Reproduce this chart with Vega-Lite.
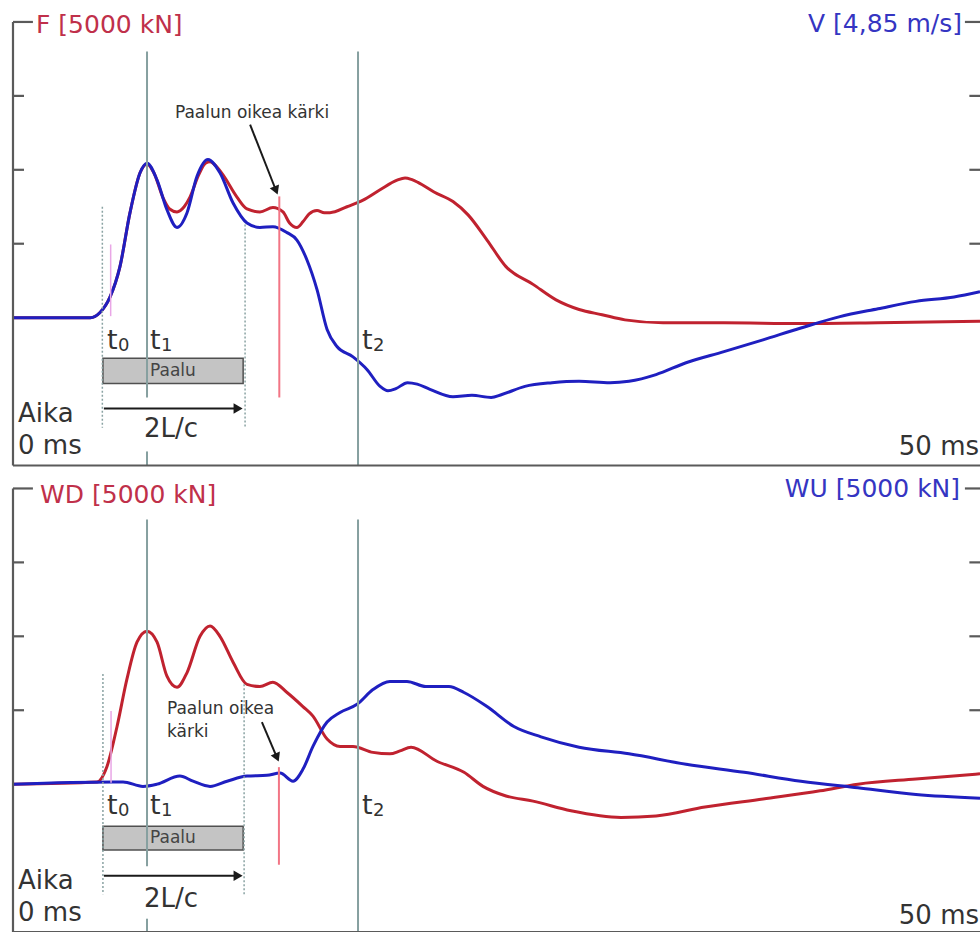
{
  "$schema": "https://vega.github.io/schema/vega-lite/v6.json",
  "width": 980,
  "height": 933,
  "autosize": {"type": "fit", "contains": "padding"},
  "padding": 0,
  "background": "white",
  "config": {"view": {"stroke": null}, "text": {"font": "DejaVu Sans"}},
  "datasets": {
    "F": [{"t":0,"v":0},{"t":4.0,"v":0},{"t":4.5,"v":0.07},{"t":5.02,"v":0.28},{"t":5.53,"v":0.69},{"t":6.05,"v":1.42},{"t":6.57,"v":1.96},{"t":6.93,"v":2.08},{"t":7.3,"v":1.95},{"t":7.76,"v":1.62},{"t":8.1,"v":1.47},{"t":8.48,"v":1.43},{"t":8.85,"v":1.5},{"t":9.15,"v":1.63},{"t":9.6,"v":1.93},{"t":9.95,"v":2.09},{"t":10.19,"v":2.11},{"t":10.5,"v":2.05},{"t":10.86,"v":1.93},{"t":11.58,"v":1.63},{"t":12.1,"v":1.47},{"t":12.77,"v":1.43},{"t":13.44,"v":1.49},{"t":13.96,"v":1.43},{"t":14.3,"v":1.28},{"t":14.68,"v":1.22},{"t":15.0,"v":1.3},{"t":15.3,"v":1.4},{"t":15.72,"v":1.45},{"t":16.1,"v":1.42},{"t":16.39,"v":1.42},{"t":17.27,"v":1.5},{"t":18.1,"v":1.59},{"t":18.98,"v":1.73},{"t":19.86,"v":1.86},{"t":20.27,"v":1.89},{"t":20.6,"v":1.87},{"t":20.94,"v":1.83},{"t":21.77,"v":1.7},{"t":22.75,"v":1.57},{"t":23.53,"v":1.39},{"t":24.51,"v":1.05},{"t":25.49,"v":0.69},{"t":26.89,"v":0.45},{"t":28.08,"v":0.24},{"t":29.27,"v":0.11},{"t":30.46,"v":0.04},{"t":31.64,"v":-0.03},{"t":33.61,"v":-0.07},{"t":36.76,"v":-0.07},{"t":40.74,"v":-0.08},{"t":44.73,"v":-0.07},{"t":50,"v":-0.05}],
    "V": [{"t":0,"v":0},{"t":4.0,"v":0},{"t":4.5,"v":0.07},{"t":5.02,"v":0.28},{"t":5.53,"v":0.69},{"t":6.05,"v":1.42},{"t":6.57,"v":1.96},{"t":6.93,"v":2.09},{"t":7.45,"v":1.86},{"t":7.96,"v":1.46},{"t":8.48,"v":1.22},{"t":9.0,"v":1.42},{"t":9.51,"v":1.91},{"t":10.08,"v":2.14},{"t":10.7,"v":1.96},{"t":11.38,"v":1.55},{"t":12.1,"v":1.28},{"t":12.77,"v":1.22},{"t":13.44,"v":1.23},{"t":14.17,"v":1.15},{"t":14.68,"v":1.05},{"t":15.2,"v":0.78},{"t":15.72,"v":0.38},{"t":16.24,"v":-0.16},{"t":16.75,"v":-0.39},{"t":17.58,"v":-0.53},{"t":18.3,"v":-0.7},{"t":18.98,"v":-0.93},{"t":19.39,"v":-0.99},{"t":19.8,"v":-0.96},{"t":20.4,"v":-0.88},{"t":20.9,"v":-0.9},{"t":21.56,"v":-0.97},{"t":22.75,"v":-1.07},{"t":23.73,"v":-1.05},{"t":24.72,"v":-1.08},{"t":25.28,"v":-1.04},{"t":26.47,"v":-0.93},{"t":27.87,"v":-0.88},{"t":29.27,"v":-0.86},{"t":30.87,"v":-0.88},{"t":31.85,"v":-0.86},{"t":33.25,"v":-0.77},{"t":34.8,"v":-0.61},{"t":36.76,"v":-0.46},{"t":38.78,"v":-0.3},{"t":40.74,"v":-0.14},{"t":42.71,"v":0.01},{"t":44.73,"v":0.12},{"t":46.69,"v":0.22},{"t":48.66,"v":0.28},{"t":50,"v":0.35}],
    "WD": [{"t":0,"v":0},{"t":4.34,"v":0.03},{"t":4.86,"v":0.24},{"t":5.38,"v":0.78},{"t":5.89,"v":1.42},{"t":6.41,"v":1.92},{"t":6.93,"v":2.07},{"t":7.45,"v":1.92},{"t":7.96,"v":1.46},{"t":8.48,"v":1.31},{"t":9.0,"v":1.51},{"t":9.67,"v":2.0},{"t":10.19,"v":2.14},{"t":10.7,"v":2.0},{"t":11.38,"v":1.65},{"t":12.1,"v":1.35},{"t":12.77,"v":1.32},{"t":13.44,"v":1.38},{"t":14.17,"v":1.24},{"t":14.99,"v":1.05},{"t":15.51,"v":0.92},{"t":16.24,"v":0.61},{"t":16.91,"v":0.51},{"t":17.58,"v":0.51},{"t":18.61,"v":0.43},{"t":19.49,"v":0.41},{"t":20.01,"v":0.45},{"t":20.58,"v":0.5},{"t":21.92,"v":0.31},{"t":23.32,"v":0.16},{"t":24.3,"v":-0.03},{"t":25.49,"v":-0.16},{"t":26.89,"v":-0.23},{"t":28.85,"v":-0.36},{"t":31.44,"v":-0.45},{"t":33.25,"v":-0.43},{"t":35.78,"v":-0.31},{"t":38.78,"v":-0.2},{"t":41.73,"v":-0.09},{"t":43.69,"v":0.0},{"t":46.69,"v":0.07},{"t":50,"v":0.14}],
    "WU": [{"t":0,"v":0},{"t":5.17,"v":0.03},{"t":5.69,"v":0.03},{"t":6.72,"v":-0.03},{"t":7.45,"v":0},{"t":8.63,"v":0.11},{"t":9.31,"v":0.04},{"t":10.19,"v":-0.03},{"t":11.07,"v":0.04},{"t":12.1,"v":0.11},{"t":13.13,"v":0.12},{"t":13.81,"v":0.15},{"t":14.48,"v":0.04},{"t":14.99,"v":0.2},{"t":15.51,"v":0.51},{"t":16.24,"v":0.84},{"t":16.91,"v":0.97},{"t":17.79,"v":1.08},{"t":18.61,"v":1.28},{"t":19.49,"v":1.39},{"t":20.37,"v":1.39},{"t":21.35,"v":1.32},{"t":22.54,"v":1.32},{"t":23.32,"v":1.24},{"t":24.51,"v":1.05},{"t":25.9,"v":0.78},{"t":27.3,"v":0.64},{"t":29.27,"v":0.5},{"t":31.85,"v":0.41},{"t":34.8,"v":0.27},{"t":37.8,"v":0.16},{"t":40.74,"v":0.04},{"t":43.69,"v":-0.05},{"t":46.69,"v":-0.14},{"t":50,"v":-0.19}],
    "frame": [{"x":0,"x2":0,"y":-2,"y2":4},{"x":0,"x2":50,"y":-2,"y2":-2},{"x":0,"x2":0.57,"y":1,"y2":1},{"x":0,"x2":0.57,"y":2,"y2":2},{"x":0,"x2":0.57,"y":3,"y2":3},{"x":0,"x2":1.03,"y":4,"y2":4},{"x":49.45,"x2":50,"y":1,"y2":1},{"x":49.45,"x2":50,"y":2,"y2":2},{"x":49.45,"x2":50,"y":3,"y2":3},{"x":49.22,"x2":50,"y":4,"y2":4}],
    "vt": [{"k":"t","x":6.93,"y":3.6,"y2":-1.08},{"k":"t","x":6.93,"y":-1.81,"y2":-2},{"k":"t","x":17.84,"y":3.6,"y2":-2},{"k":"dot","x":4.62,"y":1.5,"y2":-1.49},{"k":"dot","x":12.0,"y":1.26,"y2":-1.49},{"k":"red","x":13.77,"y":1.64,"y2":-1.08},{"k":"pink","x":5.05,"y":0.99,"y2":0.02}],
    "vb": [{"k":"t","x":6.93,"y":3.58,"y2":-1.11},{"k":"t","x":6.93,"y":-1.82,"y2":-2},{"k":"t","x":17.84,"y":3.58,"y2":-2},{"k":"dot","x":4.65,"y":1.49,"y2":-1.49},{"k":"dot","x":11.95,"y":1.35,"y2":-1.49},{"k":"red","x":13.75,"y":0.23,"y2":-1.09},{"k":"pink","x":5.07,"y":0.99,"y2":0.02}],
    "tmain": [{"x":4.86,"label":"t"},{"x":7.08,"label":"t"},{"x":18.05,"label":"t"}],
    "tsub": [{"x":5.43,"label":"0"},{"x":7.65,"label":"1"},{"x":18.62,"label":"2"}]
  },
  "resolve": {"scale": {"y": "independent"}},
  "layer": [
    {
      "layer": [
        {"mark": {"type": "rule", "stroke": "#9fb3b3", "strokeWidth": 1.5, "strokeDash": [2, 2], "clip": true},
         "encoding": {"x": {"datum": 0, "type": "quantitative", "scale": {"domain": [-0.672, 50], "nice": false, "zero": false}, "axis": null}, "x2": {"datum": 50}, "y": {"datum": 0, "type": "quantitative", "scale": {"domain": [-8.311, 4.297], "nice": false, "zero": false}, "axis": null}}},
        {"data": {"name": "F"}, "mark": {"type": "line", "stroke": "#c0222f", "strokeWidth": 3, "interpolate": "monotone", "clip": true},
         "encoding": {"x": {"field": "t", "type": "quantitative", "scale": {"domain": [-0.672, 50], "nice": false, "zero": false}, "axis": null}, "y": {"field": "v", "type": "quantitative", "scale": {"domain": [-8.311, 4.297], "nice": false, "zero": false}, "axis": null}}},
        {"data": {"name": "V"}, "mark": {"type": "line", "stroke": "#1f1fc0", "strokeWidth": 3, "interpolate": "monotone", "clip": true},
         "encoding": {"x": {"field": "t", "type": "quantitative", "scale": {"domain": [-0.672, 50], "nice": false, "zero": false}, "axis": null}, "y": {"field": "v", "type": "quantitative", "scale": {"domain": [-8.311, 4.297], "nice": false, "zero": false}, "axis": null}}},
        {"data": {"values": [{"x": 4.65, "x2": 11.9, "y": -0.55, "y2": -0.89}]}, "mark": {"type": "rect", "fill": "#c4c4c4", "stroke": "#505050", "strokeWidth": 1.5},
         "encoding": {"x": {"field": "x", "type": "quantitative", "scale": {"domain": [-0.672, 50], "nice": false, "zero": false}, "axis": null}, "x2": {"field": "x2"}, "y": {"field": "y", "type": "quantitative", "scale": {"domain": [-8.311, 4.297], "nice": false, "zero": false}, "axis": null}, "y2": {"field": "y2"}}},
        {"data": {"name": "vt"}, "transform": [{"filter": "datum.k === 't'"}], "mark": {"type": "rule", "stroke": "#86a0a0", "strokeWidth": 2},
         "encoding": {"x": {"field": "x", "type": "quantitative", "scale": {"domain": [-0.672, 50], "nice": false, "zero": false}, "axis": null}, "y": {"field": "y", "type": "quantitative", "scale": {"domain": [-8.311, 4.297], "nice": false, "zero": false}, "axis": null}, "y2": {"field": "y2"}}},
        {"data": {"name": "vt"}, "transform": [{"filter": "datum.k === 'dot'"}], "mark": {"type": "rule", "stroke": "#8aa3a3", "strokeWidth": 1.5, "strokeDash": [2, 2]},
         "encoding": {"x": {"field": "x", "type": "quantitative", "scale": {"domain": [-0.672, 50], "nice": false, "zero": false}, "axis": null}, "y": {"field": "y", "type": "quantitative", "scale": {"domain": [-8.311, 4.297], "nice": false, "zero": false}, "axis": null}, "y2": {"field": "y2"}}},
        {"data": {"name": "vt"}, "transform": [{"filter": "datum.k === 'red'"}], "mark": {"type": "rule", "stroke": "#f27585", "strokeWidth": 2},
         "encoding": {"x": {"field": "x", "type": "quantitative", "scale": {"domain": [-0.672, 50], "nice": false, "zero": false}, "axis": null}, "y": {"field": "y", "type": "quantitative", "scale": {"domain": [-8.311, 4.297], "nice": false, "zero": false}, "axis": null}, "y2": {"field": "y2"}}},
        {"data": {"name": "vt"}, "transform": [{"filter": "datum.k === 'pink'"}], "mark": {"type": "rule", "stroke": "#e9a6e6", "strokeWidth": 1.5},
         "encoding": {"x": {"field": "x", "type": "quantitative", "scale": {"domain": [-0.672, 50], "nice": false, "zero": false}, "axis": null}, "y": {"field": "y", "type": "quantitative", "scale": {"domain": [-8.311, 4.297], "nice": false, "zero": false}, "axis": null}, "y2": {"field": "y2"}}},
        {"data": {"name": "frame"}, "mark": {"type": "rule", "stroke": "#5a5a5a", "strokeWidth": 2.2, "clip": true},
         "encoding": {"x": {"field": "x", "type": "quantitative", "scale": {"domain": [-0.672, 50], "nice": false, "zero": false}, "axis": null}, "x2": {"field": "x2"}, "y": {"field": "y", "type": "quantitative", "scale": {"domain": [-8.311, 4.297], "nice": false, "zero": false}, "axis": null}, "y2": {"field": "y2"}}},
        {"data": {"values": [{"x": 4.7, "y": -1.23, "x2": 11.62, "y2": -1.23}, {"x": 12.26, "y": 2.61, "x2": 13.6, "y2": 1.72}]}, "mark": {"type": "rule", "stroke": "#1a1a1a", "strokeWidth": 2},
         "encoding": {"x": {"field": "x", "type": "quantitative", "scale": {"domain": [-0.672, 50], "nice": false, "zero": false}, "axis": null}, "x2": {"field": "x2"}, "y": {"field": "y", "type": "quantitative", "scale": {"domain": [-8.311, 4.297], "nice": false, "zero": false}, "axis": null}, "y2": {"field": "y2"}}},
        {"data": {"values": [{"x": 11.64, "y": -1.23}]}, "mark": {"type": "point", "shape": "triangle-right", "filled": true, "color": "#1a1a1a", "size": 110, "opacity": 1},
         "encoding": {"x": {"field": "x", "type": "quantitative", "scale": {"domain": [-0.672, 50], "nice": false, "zero": false}, "axis": null}, "y": {"field": "y", "type": "quantitative", "scale": {"domain": [-8.311, 4.297], "nice": false, "zero": false}, "axis": null}}},
        {"data": {"values": [{"x": 13.6, "y": 1.72}]}, "mark": {"type": "point", "shape": "triangle-down", "filled": true, "color": "#1a1a1a", "size": 100, "opacity": 1, "angle": -22},
         "encoding": {"x": {"field": "x", "type": "quantitative", "scale": {"domain": [-0.672, 50], "nice": false, "zero": false}, "axis": null}, "y": {"field": "y", "type": "quantitative", "scale": {"domain": [-8.311, 4.297], "nice": false, "zero": false}, "axis": null}}},
        {"data": {"values": [{"x": 1.19, "y": 3.85, "label": "F [5000 kN]"}]}, "mark": {"type": "text", "align": "left", "baseline": "alphabetic", "fontSize": 25, "color": "#c0304a"},
         "encoding": {"x": {"field": "x", "type": "quantitative", "scale": {"domain": [-0.672, 50], "nice": false, "zero": false}, "axis": null}, "y": {"field": "y", "type": "quantitative", "scale": {"domain": [-8.311, 4.297], "nice": false, "zero": false}, "axis": null}, "text": {"field": "label"}}},
        {"data": {"values": [{"x": 49.07, "y": 3.86, "label": "V [4,85 m/s]"}]}, "mark": {"type": "text", "align": "right", "baseline": "alphabetic", "fontSize": 25, "color": "#3535c2"},
         "encoding": {"x": {"field": "x", "type": "quantitative", "scale": {"domain": [-0.672, 50], "nice": false, "zero": false}, "axis": null}, "y": {"field": "y", "type": "quantitative", "scale": {"domain": [-8.311, 4.297], "nice": false, "zero": false}, "axis": null}, "text": {"field": "label"}}},
        {"data": {"values": [{"x": 12.36, "y": 2.77, "label": "Paalun oikea kärki"}]}, "mark": {"type": "text", "align": "center", "baseline": "middle", "fontSize": 17, "color": "#333333"},
         "encoding": {"x": {"field": "x", "type": "quantitative", "scale": {"domain": [-0.672, 50], "nice": false, "zero": false}, "axis": null}, "y": {"field": "y", "type": "quantitative", "scale": {"domain": [-8.311, 4.297], "nice": false, "zero": false}, "axis": null}, "text": {"field": "label"}}},
        {"data": {"name": "tmain"}, "mark": {"type": "text", "align": "left", "baseline": "alphabetic", "fontSize": 27, "color": "#333333"},
         "encoding": {"x": {"field": "x", "type": "quantitative", "scale": {"domain": [-0.672, 50], "nice": false, "zero": false}, "axis": null}, "y": {"datum": -0.42, "type": "quantitative", "scale": {"domain": [-8.311, 4.297], "nice": false, "zero": false}, "axis": null}, "text": {"field": "label"}}},
        {"data": {"name": "tsub"}, "mark": {"type": "text", "align": "left", "baseline": "alphabetic", "fontSize": 18, "color": "#333333"},
         "encoding": {"x": {"field": "x", "type": "quantitative", "scale": {"domain": [-0.672, 50], "nice": false, "zero": false}, "axis": null}, "y": {"datum": -0.45, "type": "quantitative", "scale": {"domain": [-8.311, 4.297], "nice": false, "zero": false}, "axis": null}, "text": {"field": "label"}}},
        {"data": {"values": [{"x": 0.26, "y": -1.41, "label": "Aika"}, {"x": 0.26, "y": -1.85, "label": "0 ms"}]}, "mark": {"type": "text", "align": "left", "baseline": "alphabetic", "fontSize": 26, "color": "#333333"},
         "encoding": {"x": {"field": "x", "type": "quantitative", "scale": {"domain": [-0.672, 50], "nice": false, "zero": false}, "axis": null}, "y": {"field": "y", "type": "quantitative", "scale": {"domain": [-8.311, 4.297], "nice": false, "zero": false}, "axis": null}, "text": {"field": "label"}}},
        {"data": {"values": [{"x": 8.17, "y": -1.51, "label": "2L/c"}]}, "mark": {"type": "text", "align": "center", "baseline": "middle", "fontSize": 26, "color": "#333333"},
         "encoding": {"x": {"field": "x", "type": "quantitative", "scale": {"domain": [-0.672, 50], "nice": false, "zero": false}, "axis": null}, "y": {"field": "y", "type": "quantitative", "scale": {"domain": [-8.311, 4.297], "nice": false, "zero": false}, "axis": null}, "text": {"field": "label"}}},
        {"data": {"values": [{"x": 8.27, "y": -0.72, "label": "Paalu"}]}, "mark": {"type": "text", "align": "center", "baseline": "middle", "fontSize": 17, "color": "#444444"},
         "encoding": {"x": {"field": "x", "type": "quantitative", "scale": {"domain": [-0.672, 50], "nice": false, "zero": false}, "axis": null}, "y": {"field": "y", "type": "quantitative", "scale": {"domain": [-8.311, 4.297], "nice": false, "zero": false}, "axis": null}, "text": {"field": "label"}}},
        {"data": {"values": [{"x": 49.95, "y": -1.86, "label": "50 ms"}]}, "mark": {"type": "text", "align": "right", "baseline": "alphabetic", "fontSize": 26, "color": "#333333"},
         "encoding": {"x": {"field": "x", "type": "quantitative", "scale": {"domain": [-0.672, 50], "nice": false, "zero": false}, "axis": null}, "y": {"field": "y", "type": "quantitative", "scale": {"domain": [-8.311, 4.297], "nice": false, "zero": false}, "axis": null}, "text": {"field": "label"}}}
      ]
    },
    {
      "layer": [
        {"mark": {"type": "rule", "stroke": "#9fb3b3", "strokeWidth": 1.5, "strokeDash": [2, 2], "clip": true},
         "encoding": {"x": {"datum": 0, "type": "quantitative", "scale": {"domain": [-0.672, 50], "nice": false, "zero": false}, "axis": null}, "x2": {"datum": 50}, "y": {"datum": 0, "type": "quantitative", "scale": {"domain": [-2, 10.608], "nice": false, "zero": false}, "axis": null}}},
        {"data": {"name": "WD"}, "mark": {"type": "line", "stroke": "#c0222f", "strokeWidth": 3, "interpolate": "monotone", "clip": true},
         "encoding": {"x": {"field": "t", "type": "quantitative", "scale": {"domain": [-0.672, 50], "nice": false, "zero": false}, "axis": null}, "y": {"field": "v", "type": "quantitative", "scale": {"domain": [-2, 10.608], "nice": false, "zero": false}, "axis": null}}},
        {"data": {"name": "WU"}, "mark": {"type": "line", "stroke": "#1f1fc0", "strokeWidth": 3, "interpolate": "monotone", "clip": true},
         "encoding": {"x": {"field": "t", "type": "quantitative", "scale": {"domain": [-0.672, 50], "nice": false, "zero": false}, "axis": null}, "y": {"field": "v", "type": "quantitative", "scale": {"domain": [-2, 10.608], "nice": false, "zero": false}, "axis": null}}},
        {"data": {"values": [{"x": 4.65, "x2": 11.9, "y": -0.57, "y2": -0.89}]}, "mark": {"type": "rect", "fill": "#c4c4c4", "stroke": "#505050", "strokeWidth": 1.5},
         "encoding": {"x": {"field": "x", "type": "quantitative", "scale": {"domain": [-0.672, 50], "nice": false, "zero": false}, "axis": null}, "x2": {"field": "x2"}, "y": {"field": "y", "type": "quantitative", "scale": {"domain": [-2, 10.608], "nice": false, "zero": false}, "axis": null}, "y2": {"field": "y2"}}},
        {"data": {"name": "vb"}, "transform": [{"filter": "datum.k === 't'"}], "mark": {"type": "rule", "stroke": "#86a0a0", "strokeWidth": 2},
         "encoding": {"x": {"field": "x", "type": "quantitative", "scale": {"domain": [-0.672, 50], "nice": false, "zero": false}, "axis": null}, "y": {"field": "y", "type": "quantitative", "scale": {"domain": [-2, 10.608], "nice": false, "zero": false}, "axis": null}, "y2": {"field": "y2"}}},
        {"data": {"name": "vb"}, "transform": [{"filter": "datum.k === 'dot'"}], "mark": {"type": "rule", "stroke": "#8aa3a3", "strokeWidth": 1.5, "strokeDash": [2, 2]},
         "encoding": {"x": {"field": "x", "type": "quantitative", "scale": {"domain": [-0.672, 50], "nice": false, "zero": false}, "axis": null}, "y": {"field": "y", "type": "quantitative", "scale": {"domain": [-2, 10.608], "nice": false, "zero": false}, "axis": null}, "y2": {"field": "y2"}}},
        {"data": {"name": "vb"}, "transform": [{"filter": "datum.k === 'red'"}], "mark": {"type": "rule", "stroke": "#f27585", "strokeWidth": 2},
         "encoding": {"x": {"field": "x", "type": "quantitative", "scale": {"domain": [-0.672, 50], "nice": false, "zero": false}, "axis": null}, "y": {"field": "y", "type": "quantitative", "scale": {"domain": [-2, 10.608], "nice": false, "zero": false}, "axis": null}, "y2": {"field": "y2"}}},
        {"data": {"name": "vb"}, "transform": [{"filter": "datum.k === 'pink'"}], "mark": {"type": "rule", "stroke": "#e9a6e6", "strokeWidth": 1.5},
         "encoding": {"x": {"field": "x", "type": "quantitative", "scale": {"domain": [-0.672, 50], "nice": false, "zero": false}, "axis": null}, "y": {"field": "y", "type": "quantitative", "scale": {"domain": [-2, 10.608], "nice": false, "zero": false}, "axis": null}, "y2": {"field": "y2"}}},
        {"data": {"name": "frame"}, "mark": {"type": "rule", "stroke": "#5a5a5a", "strokeWidth": 2.2, "clip": true},
         "encoding": {"x": {"field": "x", "type": "quantitative", "scale": {"domain": [-0.672, 50], "nice": false, "zero": false}, "axis": null}, "x2": {"field": "x2"}, "y": {"field": "y", "type": "quantitative", "scale": {"domain": [-2, 10.608], "nice": false, "zero": false}, "axis": null}, "y2": {"field": "y2"}}},
        {"data": {"values": [{"x": 4.7, "y": -1.24, "x2": 11.62, "y2": -1.24}, {"x": 12.87, "y": 0.84, "x2": 13.65, "y2": 0.36}]}, "mark": {"type": "rule", "stroke": "#1a1a1a", "strokeWidth": 2},
         "encoding": {"x": {"field": "x", "type": "quantitative", "scale": {"domain": [-0.672, 50], "nice": false, "zero": false}, "axis": null}, "x2": {"field": "x2"}, "y": {"field": "y", "type": "quantitative", "scale": {"domain": [-2, 10.608], "nice": false, "zero": false}, "axis": null}, "y2": {"field": "y2"}}},
        {"data": {"values": [{"x": 11.64, "y": -1.24}]}, "mark": {"type": "point", "shape": "triangle-right", "filled": true, "color": "#1a1a1a", "size": 110, "opacity": 1},
         "encoding": {"x": {"field": "x", "type": "quantitative", "scale": {"domain": [-0.672, 50], "nice": false, "zero": false}, "axis": null}, "y": {"field": "y", "type": "quantitative", "scale": {"domain": [-2, 10.608], "nice": false, "zero": false}, "axis": null}}},
        {"data": {"values": [{"x": 13.65, "y": 0.36}]}, "mark": {"type": "point", "shape": "triangle-down", "filled": true, "color": "#1a1a1a", "size": 100, "opacity": 1, "angle": -23},
         "encoding": {"x": {"field": "x", "type": "quantitative", "scale": {"domain": [-0.672, 50], "nice": false, "zero": false}, "axis": null}, "y": {"field": "y", "type": "quantitative", "scale": {"domain": [-2, 10.608], "nice": false, "zero": false}, "axis": null}}},
        {"data": {"values": [{"x": 1.4, "y": 3.81, "label": "WD [5000 kN]"}]}, "mark": {"type": "text", "align": "left", "baseline": "alphabetic", "fontSize": 25, "color": "#c0304a"},
         "encoding": {"x": {"field": "x", "type": "quantitative", "scale": {"domain": [-0.672, 50], "nice": false, "zero": false}, "axis": null}, "y": {"field": "y", "type": "quantitative", "scale": {"domain": [-2, 10.608], "nice": false, "zero": false}, "axis": null}, "text": {"field": "label"}}},
        {"data": {"values": [{"x": 48.97, "y": 3.88, "label": "WU [5000 kN]"}]}, "mark": {"type": "text", "align": "right", "baseline": "alphabetic", "fontSize": 25, "color": "#3535c2"},
         "encoding": {"x": {"field": "x", "type": "quantitative", "scale": {"domain": [-0.672, 50], "nice": false, "zero": false}, "axis": null}, "y": {"field": "y", "type": "quantitative", "scale": {"domain": [-2, 10.608], "nice": false, "zero": false}, "axis": null}, "text": {"field": "label"}}},
        {"data": {"values": [{"x": 7.96, "y": 1.01, "label": "Paalun oikea"}, {"x": 7.96, "y": 0.7, "label": "kärki"}]}, "mark": {"type": "text", "align": "left", "baseline": "middle", "fontSize": 17, "color": "#333333"},
         "encoding": {"x": {"field": "x", "type": "quantitative", "scale": {"domain": [-0.672, 50], "nice": false, "zero": false}, "axis": null}, "y": {"field": "y", "type": "quantitative", "scale": {"domain": [-2, 10.608], "nice": false, "zero": false}, "axis": null}, "text": {"field": "label"}}},
        {"data": {"name": "tmain"}, "mark": {"type": "text", "align": "left", "baseline": "alphabetic", "fontSize": 27, "color": "#333333"},
         "encoding": {"x": {"field": "x", "type": "quantitative", "scale": {"domain": [-0.672, 50], "nice": false, "zero": false}, "axis": null}, "y": {"datum": -0.4, "type": "quantitative", "scale": {"domain": [-2, 10.608], "nice": false, "zero": false}, "axis": null}, "text": {"field": "label"}}},
        {"data": {"name": "tsub"}, "mark": {"type": "text", "align": "left", "baseline": "alphabetic", "fontSize": 18, "color": "#333333"},
         "encoding": {"x": {"field": "x", "type": "quantitative", "scale": {"domain": [-0.672, 50], "nice": false, "zero": false}, "axis": null}, "y": {"datum": -0.43, "type": "quantitative", "scale": {"domain": [-2, 10.608], "nice": false, "zero": false}, "axis": null}, "text": {"field": "label"}}},
        {"data": {"values": [{"x": 0.26, "y": -1.42, "label": "Aika"}, {"x": 0.26, "y": -1.85, "label": "0 ms"}]}, "mark": {"type": "text", "align": "left", "baseline": "alphabetic", "fontSize": 26, "color": "#333333"},
         "encoding": {"x": {"field": "x", "type": "quantitative", "scale": {"domain": [-0.672, 50], "nice": false, "zero": false}, "axis": null}, "y": {"field": "y", "type": "quantitative", "scale": {"domain": [-2, 10.608], "nice": false, "zero": false}, "axis": null}, "text": {"field": "label"}}},
        {"data": {"values": [{"x": 8.17, "y": -1.55, "label": "2L/c"}]}, "mark": {"type": "text", "align": "center", "baseline": "middle", "fontSize": 26, "color": "#333333"},
         "encoding": {"x": {"field": "x", "type": "quantitative", "scale": {"domain": [-0.672, 50], "nice": false, "zero": false}, "axis": null}, "y": {"field": "y", "type": "quantitative", "scale": {"domain": [-2, 10.608], "nice": false, "zero": false}, "axis": null}, "text": {"field": "label"}}},
        {"data": {"values": [{"x": 8.27, "y": -0.73, "label": "Paalu"}]}, "mark": {"type": "text", "align": "center", "baseline": "middle", "fontSize": 17, "color": "#444444"},
         "encoding": {"x": {"field": "x", "type": "quantitative", "scale": {"domain": [-0.672, 50], "nice": false, "zero": false}, "axis": null}, "y": {"field": "y", "type": "quantitative", "scale": {"domain": [-2, 10.608], "nice": false, "zero": false}, "axis": null}, "text": {"field": "label"}}},
        {"data": {"values": [{"x": 49.95, "y": -1.89, "label": "50 ms"}]}, "mark": {"type": "text", "align": "right", "baseline": "alphabetic", "fontSize": 26, "color": "#333333"},
         "encoding": {"x": {"field": "x", "type": "quantitative", "scale": {"domain": [-0.672, 50], "nice": false, "zero": false}, "axis": null}, "y": {"field": "y", "type": "quantitative", "scale": {"domain": [-2, 10.608], "nice": false, "zero": false}, "axis": null}, "text": {"field": "label"}}}
      ]
    }
  ]
}
